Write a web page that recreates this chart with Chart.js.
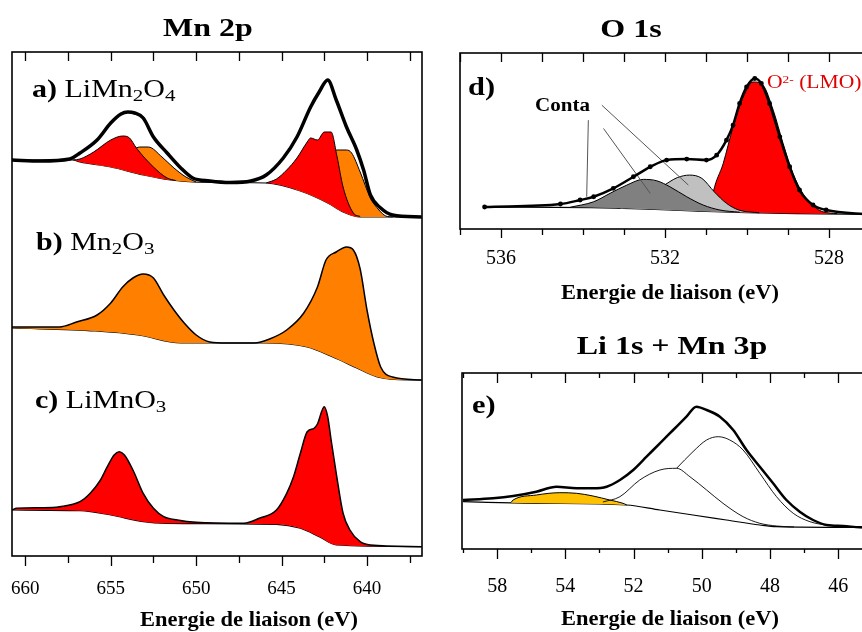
<!DOCTYPE html>
<html>
<head>
<meta charset="utf-8">
<script src="https://cdn.jsdelivr.net/npm/chart.js@4.4.1/dist/chart.umd.min.js"></script>
<style>
  body { margin: 0; width: 862px; height: 632px; overflow: hidden; position: relative; background: #fff; font-family: "Liberation Serif", serif; color: #000; }
  canvas { position: absolute; }
  .txt { position: absolute; white-space: nowrap; line-height: 1; transform-origin: left center; }
  .ttl { font-weight: bold; font-size: 26px; text-align: center; width: 240px; transform: scaleX(1.23); transform-origin: center; }
  .axt { font-weight: bold; font-size: 21px; text-align: center; width: 300px; transform: scaleX(1.07); transform-origin: center; }
  .lab { font-size: 25px; transform: scaleX(1.2); }
  .wide { transform: scaleX(1.17); }
  sub { font-size: 0.7em; vertical-align: -0.25em; line-height: 0; }
  sup { font-size: 0.62em; vertical-align: 0.45em; line-height: 0; }
</style>
</head>
<body>
<canvas id="mn" width="440" height="632" style="left:0;top:0"></canvas>
<canvas id="o1s" width="440" height="310" style="left:440px;top:0"></canvas>
<canvas id="li" width="440" height="312" style="left:440px;top:320px"></canvas>

<div class="txt ttl" style="left:88px;top:15px">Mn 2p</div>
<div class="txt ttl" style="left:511px;top:16px">O 1s</div>
<div class="txt ttl" style="left:552px;top:333px">Li 1s + Mn 3p</div>

<div class="txt lab" style="left:32px;top:76px"><b>a)</b> LiMn<sub>2</sub>O<sub>4</sub></div>
<div class="txt lab" style="left:36px;top:229px"><b>b)</b> Mn<sub>2</sub>O<sub>3</sub></div>
<div class="txt lab" style="left:35px;top:387px"><b>c)</b> LiMnO<sub>3</sub></div>
<div class="txt wide" style="left:468px;top:74px;font-size:26px;font-weight:bold">d)</div>
<div class="txt wide" style="left:472px;top:392px;font-size:26px;font-weight:bold">e)</div>
<div class="txt wide" style="left:535px;top:96px;font-size:18px;font-weight:bold">Conta</div>
<div class="txt" style="left:767px;top:73px;font-size:18px;color:#e00000;transform:scaleX(1.2)">O<sup>2-</sup> (LMO)</div>

<div class="txt axt" style="left:99px;top:609px">Energie de liaison (eV)</div>
<div class="txt axt" style="left:520px;top:282px">Energie de liaison (eV)</div>
<div class="txt axt" style="left:520px;top:608px">Energie de liaison (eV)</div>

<script>
// ---- Mn 2p : [binding energy eV, intensity (stacked, a.u.)]
const mnA_envelope = [[660.8,396],[659.1,395],[657.4,397],[656.8,403],[655.8,416],[655.0,433],[654.4,442],[654.0,444],[653.6,443],[653.1,438],[652.5,419],[651.7,403],[650.9,388],[650.2,378],[649.2,375],[648.0,373.5],[646.8,375],[645.9,381],[644.9,398],[644.1,419],[643.3,449],[642.8,464],[642.3,476],[641.8,456],[641.2,429],[640.6,406],[640.2,386],[639.8,361],[639.2,348],[638.5,341],[636.8,339]];
const mnA_background = [[660.8,396],[657.2,396],[656.8,394],[655.0,389],[653.1,381],[651.5,376],[650.2,374],[648.0,373.5],[645.9,373],[643.9,365],[642.3,353],[641.4,344],[640.4,339],[636.8,339]];
const mnA_red1 = [[657.2,396],[656.8,397],[656.0,404],[655.0,416],[654.3,420],[653.9,418],[653.5,408],[652.5,389],[651.7,378],[651.2,375.5]];
const mnA_orange1 = [[656.0,392],[655.0,395],[654.3,398],[653.7,406],[653.3,409],[652.8,409],[652.0,399],[651.3,388],[650.6,379],[650.0,374]];
const mnA_red2 = [[645.9,373],[645.3,377],[644.7,386],[644.1,398],[643.5,414],[643.3,418],[642.9,416],[642.5,424],[642.1,424],[641.75,399],[641.4,369],[640.8,343],[640.4,339.5]];
const mnA_orange2 = [[644.2,368],[643.3,386],[642.6,398],[641.8,406],[641.2,406],[640.9,403],[640.4,384],[639.8,358],[639.3,346],[638.9,340],[638.5,339]];

const mnB_envelope = [[660.8,229],[658.0,229],[657.0,234],[655.8,241],[655.0,253],[654.3,269],[653.7,278],[653.1,282],[652.5,278],[651.9,261],[651.3,246],[650.7,233],[650.0,221],[649.2,214],[648.2,213],[646.6,213],[645.7,217],[644.7,226],[643.7,243],[642.9,269],[642.4,296],[641.8,304],[641.2,309],[640.8,306],[640.4,287],[640.0,246],[639.6,213],[639.2,189],[638.5,179],[636.8,176]];
const mnB_background = [[660.8,228],[655.9,225],[653.4,221],[650.9,213],[648.2,213],[646.0,213],[643.5,209],[642.0,199],[640.6,188],[639.4,179],[637.6,176],[636.8,176]];

const mnC_envelope = [[660.8,46],[660.5,47.7],[658.9,48.3],[658.0,49.3],[656.8,54.3],[656.2,62.7],[655.6,76],[655.2,89.3],[654.8,101],[654.5,104.3],[654.2,101],[653.7,86],[653.1,62.7],[652.5,47.7],[651.9,39.3],[651.1,36],[650.0,33.7],[647.2,32.7],[646.3,37.7],[645.3,46],[644.7,62.7],[644.3,79.3],[643.9,102.7],[643.5,124.3],[643.1,127.7],[642.9,132],[642.5,149.3],[642.3,139.3],[642.1,116],[641.8,82.7],[641.4,42.7],[641.0,26],[640.4,14.3],[639.8,11],[636.8,9.3]];
const mnC_background = [[660.8,46],[656.8,45.3],[655.0,41],[653.1,34.3],[651.7,32.7],[645.3,31.7],[643.9,27.7],[642.8,19.3],[641.8,11],[636.8,9.3]];

// ---- O 1s
const o1s_envelope = [[536.4,22],[534.55,25],[534.07,29],[533.74,32.3],[533.26,40.7],[532.77,52.3],[532.36,62.3],[531.96,69],[531.47,70],[530.99,69],[530.74,74],[530.50,89],[530.34,104],[530.18,125.7],[530.01,142.3],[529.81,150.7],[529.65,145.7],[529.45,125.7],[529.20,92.3],[528.96,62.3],[528.72,39],[528.39,24],[528.07,19],[527.0,14.5]];
const o1s_background = [[536.4,22],[533.8,21.5],[532.4,20],[531.2,18],[530.0,16.5],[528.8,15.5],[527.0,14.5]];
const o1s_lmo = [[530.9,17.6],[530.82,37.3],[530.58,65.7],[530.34,102.3],[530.09,132.3],[529.85,147.3],[529.61,144],[529.36,119],[529.12,85.7],[528.88,55.7],[528.64,35.7],[528.31,20.7],[528.15,17.3],[527.8,15.3]];
const o1s_conta1 = [[534.31,21.8],[533.74,27.3],[533.34,35.7],[532.93,44],[532.53,49.7],[532.20,48.3],[531.88,42.3],[531.47,32.3],[531.07,24],[530.66,19],[530.18,16.8]];
const o1s_conta2 = [[533.1,21],[532.6,29],[532.2,39],[531.9,47],[531.7,51.5],[531.4,54],[531.1,50.7],[530.8,37.3],[530.5,25.7],[530.2,19],[529.7,16.2]];
const o1s_pointer1 = [[533.87,109],[533.91,32.3]];
const o1s_pointer2 = [[533.50,100.7],[532.36,35.7]];
const o1s_pointer3 = [[533.54,124],[531.43,44]];

// ---- Li 1s + Mn 3p
const li_envelope = [[57.0,49],[56.12,50.7],[55.53,53],[54.85,57.3],[54.26,62.3],[53.67,60.7],[53.19,60.7],[52.79,62.3],[52.40,69],[52.01,79],[51.62,92.3],[51.23,105.7],[50.84,119],[50.45,132.3],[50.16,142.3],[49.86,139],[49.47,132.3],[49.08,119],[48.69,99],[48.30,82.3],[47.91,65.7],[47.52,49],[47.13,37.3],[46.74,29],[46.34,24],[45.86,23],[45.37,21.7],[45.1,21.5]];
const li_background = [[57.0,47.3],[54.85,45.7],[52.21,44],[51.23,39],[50.26,34],[49.28,29],[48.30,24],[47.81,22.3],[45.1,21.5]];
const li_li1s = [[55.6,46.4],[55.53,49],[54.85,54],[54.16,56.3],[53.67,55.7],[53.19,53],[52.70,49],[52.31,45.7],[52.2,44]];
const li_mn3p1 = [[52.9,47],[52.40,52.3],[51.82,69],[51.23,79],[50.74,80.7],[50.35,72.3],[49.86,59],[49.38,45.7],[48.79,32.3],[48.30,25.7],[47.81,23],[47.3,22]];
const li_mn3p2 = [[50.74,80.7],[50.26,97.3],[49.86,109],[49.52,112.3],[49.18,109],[48.79,99],[48.30,75.7],[47.81,52.3],[47.32,35.7],[46.83,27.3],[46.34,24],[45.9,23]];
const liTickValues = [56, 54, 52, 50, 48, 46];
const liTickLabels = ['58', '54', '52', '50', '48', '46'];

const RED = '#ff0000', ORANGE = '#ff8000', YELLOW = '#ffc000', DARK = '#808080', LIGHT = '#c0c0c0';

function line(arr, opt) {
  return Object.assign({
    data: arr.map(([x, y]) => ({ x, y })),
    borderColor: '#000', borderWidth: 1, pointRadius: 0, fill: false,
    cubicInterpolationMode: 'monotone'
  }, opt);
}

// frame box plus tick marks (in at the top, out at the bottom)
const frameTicks = {
  id: 'frameTicks',
  afterDatasetsDraw(chart, args, o) {
    const { ctx, chartArea: a } = chart;
    const x = chart.scales.x;
    ctx.save();
    ctx.strokeStyle = '#000';
    ctx.lineWidth = 1.6;
    ctx.strokeRect(a.left, a.top, a.right - a.left, a.bottom - a.top);
    ctx.lineWidth = 1.3;
    ctx.beginPath();
    const n = Math.round((o.to - o.from) / o.step);
    for (let i = 0; i <= n; i++) {
      const v = o.from + i * o.step;
      const px = Math.round(x.getPixelForValue(v)) + 0.5;
      if (px < a.left - 1 || px > a.right + 1) continue;
      const major = Math.abs(v / o.major - Math.round(v / o.major)) < 1e-6;
      ctx.moveTo(px, a.top);
      ctx.lineTo(px, a.top + (major ? o.topMajor : o.topMinor));
      ctx.moveTo(px, a.bottom);
      ctx.lineTo(px, a.bottom + (major ? o.botMajor : o.botMinor));
    }
    ctx.stroke();
    ctx.restore();
  }
};

function xAxis(min, max, step, pad, height, fontSize, extra) {
  return {
    type: 'linear', reverse: true, min, max,
    grid: { display: false }, border: { display: false },
    ticks: Object.assign({
      stepSize: step, includeBounds: false, autoSkip: false, maxRotation: 0,
      padding: pad, color: '#000', font: { family: 'Liberation Serif', size: fontSize }
    }, extra || {}),
    afterFit(s) {
      s.height = height;
      // keep the plot box where the padding puts it
      s.paddingLeft = 0;
      s.paddingRight = 0;
    }
  };
}

function baseOptions(xScale, ymax, padding, ticksOpt) {
  return {
    responsive: false, animation: false, devicePixelRatio: 1,
    layout: { padding },
    scales: { x: xScale, y: { display: false, min: 0, max: ymax } },
    plugins: { legend: { display: false }, tooltip: { enabled: false }, frameTicks: ticksOpt }
  };
}

// Mn 2p
new Chart(document.getElementById('mn'), {
  type: 'line',
  data: {
    datasets: [
      line(mnA_envelope, { borderWidth: 3.5 }),
      line(mnA_red1, { fill: 6, backgroundColor: RED }),
      line(mnA_red2, { fill: 6, backgroundColor: RED }),
      line(mnA_orange1, { fill: 6, backgroundColor: ORANGE }),
      line(mnA_orange2, { fill: 6, backgroundColor: ORANGE }),
      line(mnB_envelope, { fill: 7, backgroundColor: ORANGE, borderWidth: 1.5 }),
      line(mnA_background, { borderWidth: 1.2 }),
      line(mnB_background, { borderWidth: 1.2 }),
      line(mnC_envelope, { fill: 9, backgroundColor: RED, borderWidth: 1.5 }),
      line(mnC_background, { borderWidth: 1.2 })
    ]
  },
  options: baseOptions(xAxis(636.78, 660.78, 5, 14, 76, 19), 504,
    { left: 12, right: 18, top: 52, bottom: 0 },
    { from: 637.5, to: 660, step: 2.5, major: 5, topMajor: 9, topMinor: 9, botMajor: 10, botMinor: 7 }),
  plugins: [frameTicks]
});

// O 1s
new Chart(document.getElementById('o1s'), {
  type: 'line',
  data: {
    datasets: [
      line(o1s_envelope, { borderWidth: 2.5, pointRadius: 1.2, pointBackgroundColor: '#000' }),
      line(o1s_pointer1, { borderColor: '#555', cubicInterpolationMode: 'default' }),
      line(o1s_pointer2, { borderColor: '#555', cubicInterpolationMode: 'default' }),
      line(o1s_pointer3, { borderColor: '#555', cubicInterpolationMode: 'default' }),
      line(o1s_conta1, { fill: 7, backgroundColor: DARK }),
      line(o1s_conta2, { fill: 7, backgroundColor: LIGHT }),
      line(o1s_lmo, { fill: 7, backgroundColor: RED }),
      line(o1s_background, { borderWidth: 1.2 })
    ]
  },
  options: baseOptions(xAxis(527.0, 537.0, 4, 10, 81, 20), 176.3,
    { left: 20, right: 10, top: 53, bottom: 0 },
    { from: 527, to: 537, step: 1, major: 4, topMajor: 9, topMinor: 9, botMajor: 9, botMinor: 6 }),
  plugins: [frameTicks]
});

// Li 1s + Mn 3p
new Chart(document.getElementById('li'), {
  type: 'line',
  data: {
    datasets: [
      line(li_envelope, { borderWidth: 2.5 }),
      line(li_mn3p2, { borderWidth: 0.9 }),
      line(li_mn3p1, { borderWidth: 0.9 }),
      line(li_li1s, { fill: 4, backgroundColor: YELLOW }),
      line(li_background, { borderWidth: 1.2 })
    ]
  },
  options: baseOptions(xAxis(45.07, 57.03, 2, 18, 83, 20,
      { callback: (v) => { const i = liTickValues.indexOf(v); return i < 0 ? '' : liTickLabels[i]; } }), 176,
    { left: 22, right: 10, top: 53, bottom: 0 },
    { from: 46, to: 57, step: 1, major: 2, topMajor: 10, topMinor: 5, botMajor: 10, botMinor: 4 }),
  plugins: [frameTicks]
});
</script>
</body>
</html>
